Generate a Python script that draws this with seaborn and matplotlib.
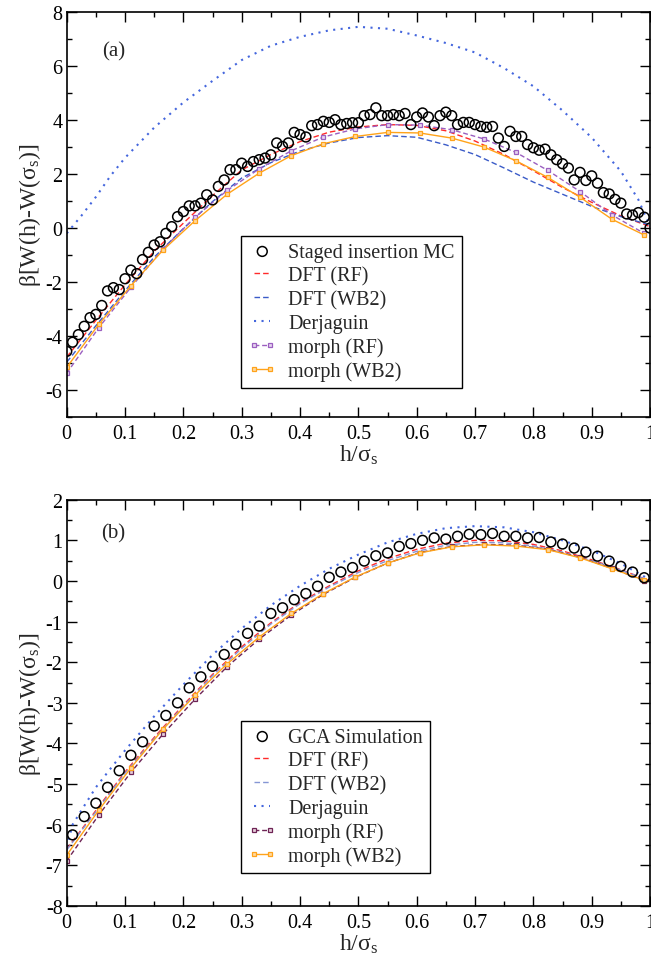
import matplotlib
matplotlib.use('Agg')
import matplotlib.pyplot as plt
import seaborn as sns
from matplotlib.ticker import MultipleLocator, FuncFormatter

# ---- panel (a) data ----
h_mc_a = [0.00, 0.01, 0.02, 0.03, 0.04, 0.05, 0.06, 0.07, 0.08, 0.09,
          0.10, 0.11, 0.12, 0.13, 0.14, 0.15, 0.16, 0.17, 0.18, 0.19,
          0.20, 0.21, 0.22, 0.23, 0.24, 0.25, 0.26, 0.27, 0.28, 0.29,
          0.30, 0.31, 0.32, 0.33, 0.34, 0.35, 0.36, 0.37, 0.38, 0.39,
          0.40, 0.41, 0.42, 0.43, 0.44, 0.45, 0.46, 0.47, 0.48, 0.49,
          0.50, 0.51, 0.52, 0.53, 0.54, 0.55, 0.56, 0.57, 0.58, 0.59,
          0.60, 0.61, 0.62, 0.63, 0.64, 0.65, 0.66, 0.67, 0.68, 0.69,
          0.70, 0.71, 0.72, 0.73, 0.74, 0.75, 0.76, 0.77, 0.78, 0.79,
          0.80, 0.81, 0.82, 0.83, 0.84, 0.85, 0.86, 0.87, 0.88, 0.89,
          0.90, 0.91, 0.92, 0.93, 0.94, 0.95, 0.96, 0.97, 0.98, 0.99, 1.00]
mc_a = [-4.57, -4.23, -3.95, -3.64, -3.32, -3.20, -2.87, -2.33, -2.21, -2.28,
        -1.88, -1.56, -1.69, -1.17, -0.90, -0.63, -0.51, -0.20, 0.05, 0.42,
        0.61, 0.82, 0.82, 0.92, 1.23, 1.04, 1.54, 1.78, 2.16, 2.16,
        2.40, 2.28, 2.46, 2.53, 2.59, 2.71, 3.15, 3.02, 3.15, 3.54,
        3.46, 3.37, 3.79, 3.83, 3.95, 3.91, 4.01, 3.83, 3.87, 3.90,
        3.90, 4.16, 4.20, 4.45, 4.16, 4.16, 4.20, 4.16, 4.24, 3.83,
        4.11, 4.26, 4.11, 3.79, 4.16, 4.29, 4.16, 3.83, 3.91, 3.91,
        3.83, 3.76, 3.73, 3.76, 3.33, 3.02, 3.58, 3.39, 3.39, 3.09,
        2.97, 2.88, 2.92, 2.71, 2.53, 2.38, 2.22, 1.78, 2.06, 1.76,
        1.93, 1.66, 1.31, 1.26, 1.06, 0.92, 0.52, 0.48, 0.57, 0.40, 0.00]

h_grid = [0.0, 0.05, 0.1, 0.15, 0.2, 0.25, 0.3, 0.35, 0.4, 0.45, 0.5,
          0.55, 0.6, 0.65, 0.7, 0.75, 0.8, 0.85, 0.9, 0.95, 1.0]
dft_rf_a = [-4.78, -3.42, -2.10, -0.86, 0.18, 1.20, 2.15, 2.72, 3.20, 3.55, 3.74,
            3.83, 3.80, 3.60, 3.22, 2.72, 2.12, 1.50, 0.95, 0.45, 0.05]
dft_wb2_a = [-4.97, -3.62, -2.32, -1.08, -0.02, 0.98, 1.85, 2.42, 2.85, 3.15, 3.35,
             3.42, 3.36, 3.08, 2.72, 2.22, 1.70, 1.25, 0.80, 0.42, 0.11]

h_derj_a = [0.0, 0.025, 0.05, 0.075, 0.1, 0.15, 0.2, 0.25, 0.3, 0.35, 0.4, 0.45, 0.5,
            0.55, 0.6, 0.65, 0.7, 0.75, 0.8, 0.85, 0.9, 0.95, 0.98, 1.0]
derj_a = [-0.20, 0.45, 1.15, 1.93, 2.60, 3.72, 4.65, 5.45, 6.22, 6.75, 7.08, 7.32, 7.45,
          7.38, 7.13, 6.85, 6.50, 5.92, 5.25, 4.35, 3.35, 2.10, 1.05, 0.05]

h_morph = [0.0, 0.055, 0.11, 0.165, 0.22, 0.275, 0.33, 0.385, 0.44, 0.495,
           0.55, 0.605, 0.66, 0.715, 0.77, 0.825, 0.88, 0.935, 0.99]
morph_rf_a = [-5.38, -3.69, -2.20, -0.78, 0.40, 1.39, 2.19, 2.86, 3.37, 3.67,
              3.83, 3.81, 3.64, 3.30, 2.80, 2.13, 1.35, 0.48, -0.20]
morph_wb2_a = [-5.16, -3.57, -2.14, -0.82, 0.27, 1.25, 2.03, 2.68, 3.12, 3.39,
               3.54, 3.52, 3.33, 3.00, 2.49, 1.87, 1.14, 0.32, -0.26]

# ---- panel (b) data ----
h_gca_b = [0.01, 0.03, 0.05, 0.07, 0.09, 0.11, 0.13, 0.15, 0.17, 0.19,
           0.21, 0.23, 0.25, 0.27, 0.29, 0.31, 0.33, 0.35, 0.37, 0.39,
           0.41, 0.43, 0.45, 0.47, 0.49, 0.51, 0.53, 0.55, 0.57, 0.59,
           0.61, 0.63, 0.65, 0.67, 0.69, 0.71, 0.73, 0.75, 0.77, 0.79,
           0.81, 0.83, 0.85, 0.87, 0.89, 0.91, 0.93, 0.95, 0.97, 0.99]
gca_b = [-6.25, -5.80, -5.47, -5.08, -4.67, -4.29, -3.96, -3.57, -3.31, -3.00,
         -2.63, -2.36, -2.10, -1.81, -1.56, -1.29, -1.11, -0.80, -0.66, -0.46,
         -0.31, -0.13, 0.09, 0.22, 0.33, 0.49, 0.62, 0.69, 0.85, 0.92,
         1.00, 1.06, 1.03, 1.10, 1.15, 1.14, 1.17, 1.10, 1.10, 1.06,
         1.07, 0.96, 0.91, 0.81, 0.71, 0.61, 0.49, 0.36, 0.22, 0.08]

dft_rf_b = [-6.60, -5.65, -4.70, -3.85, -3.05, -2.30, -1.62, -1.03, -0.53, -0.12, 0.25,
            0.55, 0.78, 0.93, 1.00, 0.99, 0.90, 0.74, 0.52, 0.28, 0.00]
dft_wb2_b = [-6.62, -5.68, -4.73, -3.88, -3.08, -2.33, -1.66, -1.06, -0.56, -0.15, 0.21,
             0.50, 0.73, 0.88, 0.95, 0.94, 0.86, 0.71, 0.50, 0.27, 0.00]

h_derj_b = [0.0, 0.01, 0.025, 0.05, 0.075, 0.1, 0.15, 0.2, 0.25, 0.3, 0.35, 0.4, 0.45,
            0.5, 0.55, 0.6, 0.65, 0.7, 0.75, 0.8, 0.85, 0.9, 0.95, 1.0]
derj_b = [-6.55, -6.00, -5.65, -5.08, -4.62, -4.17, -3.33, -2.55, -1.82, -1.17, -0.60, -0.12, 0.30,
          0.65, 0.95, 1.16, 1.30, 1.35, 1.32, 1.20, 1.00, 0.75, 0.43, 0.03]

morph_rf_b = [-6.89, -5.76, -4.71, -3.77, -2.91, -2.11, -1.43, -0.84, -0.33, 0.09,
              0.44, 0.70, 0.85, 0.90, 0.88, 0.78, 0.58, 0.31, 0.01]
morph_wb2_b = [-6.75, -5.64, -4.60, -3.65, -2.81, -2.04, -1.38, -0.80, -0.31, 0.10,
               0.44, 0.69, 0.84, 0.89, 0.86, 0.77, 0.57, 0.30, 0.02]

sns.set_style('ticks')
plt.rcParams['font.family'] = ['Liberation Serif', 'DejaVu Serif']
plt.rcParams['mathtext.fontset'] = 'custom'
plt.rcParams['mathtext.rm'] = 'Liberation Serif'
plt.rcParams['mathtext.it'] = 'Liberation Serif:italic'

fig = plt.figure(figsize=(6.51, 9.62), dpi=100)
ax_a = fig.add_axes([0.1025, 0.5655, 0.896, 0.421])
ax_b = fig.add_axes([0.1025, 0.0572, 0.896, 0.4223])


def line(ax, x, y, color, ls, label, marker=None, mfc=None, lw=1.0):
    sns.lineplot(x=x, y=y, ax=ax, color=color, linestyle=ls, lw=lw, label=label,
                 marker=marker, markersize=3.5, markeredgecolor=color,
                 markerfacecolor=mfc, markeredgewidth=0.9,
                 estimator=None, sort=False)


def panel(ax, hmc, mc, mclabel, rf, wb2, hd, derj, mrf, mwb2,
          wb2_color, mrf_color, mrf_fill, ylim, ymaj, tag, tagy, legy):
    sns.scatterplot(x=hmc, y=mc, ax=ax, s=50, facecolor='none', edgecolor='black',
                    linewidth=1.1, label=mclabel, zorder=5)
    line(ax, h_grid, rf, '#ff2a2a', (0, (4, 2.2)), 'DFT (RF)')
    line(ax, h_grid, wb2, wb2_color, (0, (4, 2.2)), 'DFT (WB2)')
    line(ax, hd, derj, '#4466dd', (0, (1, 2.6)), 'Derjaguin', lw=1.5)
    line(ax, h_morph, mrf, mrf_color, (0, (3.5, 2)), 'morph (RF)', marker='s', mfc=mrf_fill)
    line(ax, h_morph, mwb2, '#ffa31a', '-', 'morph (WB2)', marker='s', mfc='#ffd9a0')

    ax.set_xlim(0, 1)
    ax.set_ylim(*ylim)
    ax.xaxis.set_major_locator(MultipleLocator(0.1))
    ax.xaxis.set_minor_locator(MultipleLocator(0.05))
    ax.yaxis.set_major_locator(MultipleLocator(ymaj))
    ax.yaxis.set_minor_locator(MultipleLocator(ymaj / 2))
    ax.xaxis.set_major_formatter(FuncFormatter(lambda v, p: '%g' % round(v, 2)))
    ax.yaxis.set_major_formatter(FuncFormatter(lambda v, p: '%g' % v))
    ax.tick_params(which='both', direction='in', top=True, right=True,
                   labelsize=14.5, width=1.0, colors='black')
    ax.tick_params(which='major', length=7)
    ax.tick_params(which='minor', length=3.5)
    ax.tick_params(axis='x', pad=5)
    ax.tick_params(axis='y', pad=3)
    for s in ax.spines.values():
        s.set_linewidth(1.2)
        s.set_color('black')
        s.set_visible(True)
    ax.set_xlabel('h/σ$_\\mathrm{s}$', fontsize=17, labelpad=0)
    ax.set_ylabel('β[W(h)-W(σ$_\\mathrm{s}$)]', fontsize=17, labelpad=2)
    ax.text(0.08, tagy, tag, transform=ax.transAxes, fontsize=15,
            ha='center', va='center')
    leg = ax.legend(loc='lower left', bbox_to_anchor=(0.299, legy), borderaxespad=0,
                    fontsize=14.5, frameon=True, fancybox=False, framealpha=1,
                    edgecolor='black', handlelength=1.4, handletextpad=0.6,
                    labelspacing=0.22, borderpad=0.35, numpoints=2, scatterpoints=1)
    leg.get_frame().set_linewidth(1.0)


panel(ax_a, h_mc_a, mc_a, 'Staged insertion MC', dft_rf_a, dft_wb2_a, h_derj_a, derj_a,
      morph_rf_a, morph_wb2_a, '#3a5bc8', '#9b5fc0', '#e6d5f0', (-7, 8), 2,
      '(a)', 0.904, 0.0716)
panel(ax_b, h_gca_b, gca_b, 'GCA Simulation', dft_rf_b, dft_wb2_b, h_derj_b, derj_b,
      morph_rf_b, morph_wb2_b, '#8596d4', '#6e2455', '#e8d0dc', (-8, 2), 1,
      '(b)', 0.919, 0.081)

fig.savefig('out.png', dpi=100)
